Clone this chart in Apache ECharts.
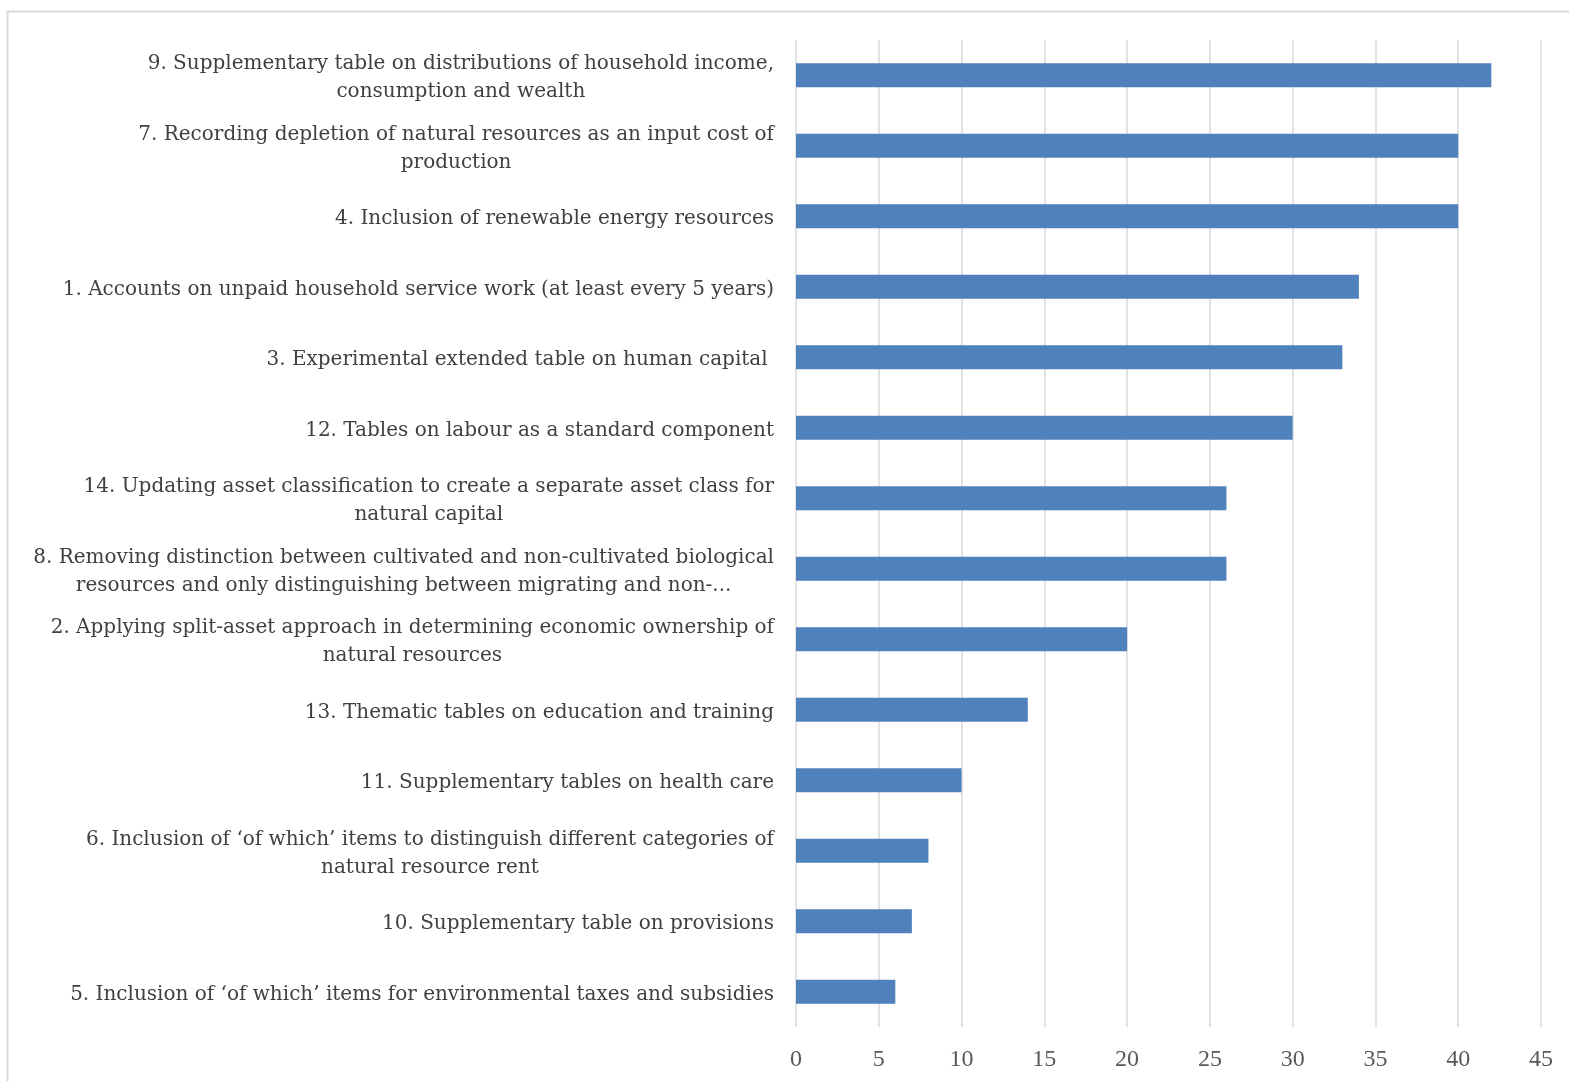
<!DOCTYPE html>
<html>
<head>
<meta charset="utf-8">
<script src="https://cdn.jsdelivr.net/npm/echarts@6/dist/echarts.min.js"></script>
<style>
  html, body { margin: 0; padding: 0; background: #fff; }
  #chart { width: 1569px; height: 1081px; }
</style>
</head>
<body>
<div id="chart"></div>
<script>
// Proposed changes, ranked by number of responses
const categories = [
  "9. Supplementary table on distributions of household income,\nconsumption and wealth",
  "7. Recording depletion of natural resources as an input cost of\nproduction",
  "4. Inclusion of renewable energy resources",
  "1. Accounts on unpaid household service work (at least every 5 years)",
  "3. Experimental extended table on human capital ",
  "12. Tables on labour as a standard component",
  "14. Updating asset classification to create a separate asset class for\nnatural capital",
  "8. Removing distinction between cultivated and non-cultivated biological\nresources and only distinguishing between migrating and non-...",
  "2. Applying split-asset approach in determining economic ownership of\nnatural resources",
  "13. Thematic tables on education and training",
  "11. Supplementary tables on health care",
  "6. Inclusion of \u2018of which\u2019 items to distinguish different categories of\nnatural resource rent",
  "10. Supplementary table on provisions",
  "5. Inclusion of \u2018of which\u2019 items for environmental taxes and subsidies"
];
const responses = [42, 40, 40, 34, 33, 30, 26, 26, 20, 14, 10, 8, 7, 6];
const axisMin = 0;
const axisMax = 45;
const axisStep = 5;

const labelFont = 'DejaVu Serif';

const chart = echarts.init(document.getElementById('chart'));
chart.setOption({
  animation: false,
  backgroundColor: '#ffffff',
  graphic: [{
    type: 'rect',
    silent: true,
    shape: { x: 7.5, y: 11.5, width: 1700, height: 1200 },
    style: { fill: 'none', stroke: '#d9d9d9', lineWidth: 2 }
  }],
  grid: { left: 796, right: 28, top: 40, bottom: 54, containLabel: false },
  xAxis: {
    type: 'value',
    min: axisMin, max: axisMax, interval: axisStep,
    axisLine: { show: false },
    axisTick: { show: false },
    axisLabel: { color: '#595959', fontSize: 24, margin: 21, fontFamily: 'Liberation Serif' },
    splitLine: { show: true, lineStyle: { color: '#d9d9d9', width: 1.5 } }
  },
  yAxis: {
    type: 'category',
    data: categories,
    inverse: true,
    axisLine: { show: false },
    axisTick: { show: false },
    axisLabel: {
      margin: 22,
      align: 'right',
      padding: [6, 0, 0, 0],
      // each line is centred within the right-aligned label block
      formatter: function (v) {
        return v.split('\n').map(function (s) { return '{c|' + s + '}'; }).join('\n');
      },
      rich: {
        c: {
          align: 'center', color: '#404040', fontSize: 20, lineHeight: 28,
          fontFamily: labelFont
        }
      }
    }
  },
  series: [{
    type: 'bar',
    data: responses,
    barWidth: 24,
    itemStyle: { color: '#4f81bd' }
  }]
});
</script>
</body>
</html>
